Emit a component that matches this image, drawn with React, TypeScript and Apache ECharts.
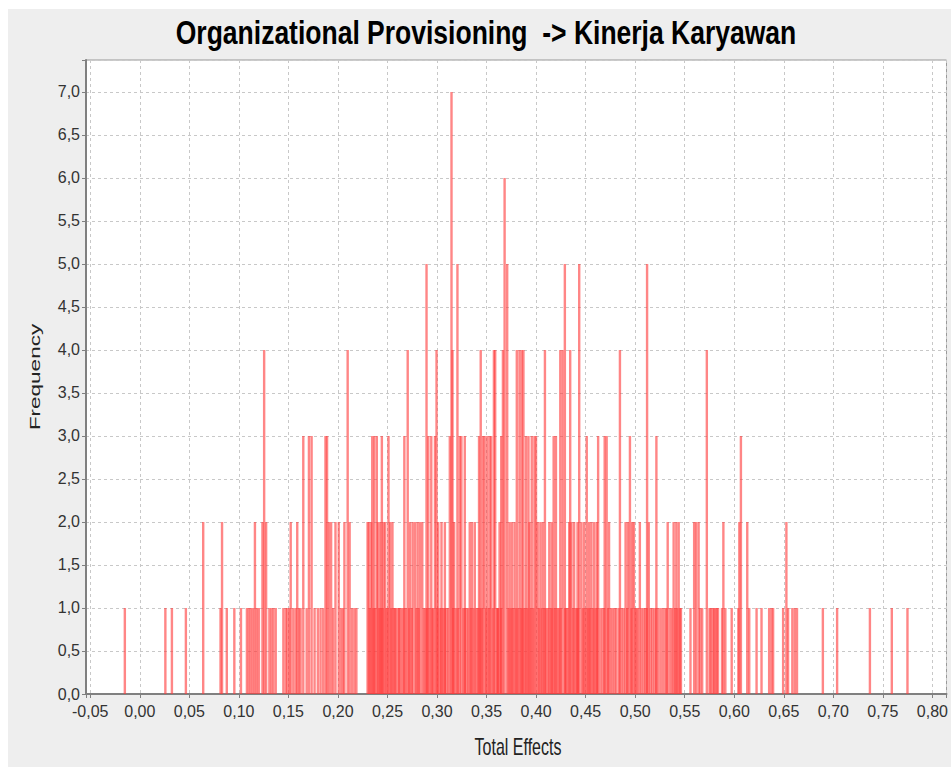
import { useEffect, useRef } from 'react';
import * as echarts from 'echarts';

const titleText = 'Organizational Provisioning  -> Kinerja Karyawan';
const xAxisTitle = 'Total Effects';
const yAxisTitle = 'Frequency';

// Bootstrap sample positions (Total Effects) grouped by bar height (frequency)
const freq1 = [
  -0.0151, 0.0258, 0.0324, 0.0465, 0.0815, 0.0878, 0.0954, 0.1021,
  0.1081, 0.1101, 0.1121, 0.1142, 0.1182, 0.1202, 0.1308, 0.1328, 0.1348, 0.1372,
  0.1449, 0.1473, 0.1489, 0.1509, 0.1549, 0.1573, 0.1606, 0.1623, 0.1684, 0.1764,
  0.1797, 0.1824, 0.185, 0.1951, 0.2031, 0.2051, 0.2142, 0.2166, 0.2186,
  0.2322, 0.2357, 0.2375, 0.2415, 0.2432, 0.2452, 0.2488, 0.2502, 0.2538, 0.2562,
  0.2575, 0.2585, 0.2605, 0.2618, 0.2628, 0.2648, 0.2665, 0.2688, 0.2718, 0.2745,
  0.2792, 0.2815, 0.2868, 0.2885, 0.2902, 0.2925, 0.2952, 0.2962, 0.3002, 0.3025,
  0.3042, 0.3062, 0.3078, 0.3095, 0.3112, 0.3162, 0.3188, 0.3212, 0.3265, 0.3282,
  0.3298, 0.3315, 0.3342, 0.3368, 0.3398, 0.3412, 0.3432, 0.3452, 0.3495, 0.3522,
  0.3562, 0.3605, 0.3612, 0.3618, 0.3645, 0.3722, 0.3745, 0.3768, 0.3795, 0.3818,
  0.3845, 0.3865, 0.3888, 0.3912, 0.3945, 0.3972, 0.4028, 0.4055, 0.4082, 0.4102,
  0.4118, 0.4145, 0.4165, 0.4192, 0.4215, 0.4228, 0.4248, 0.4292, 0.4305, 0.4318,
  0.4372, 0.4398, 0.4412, 0.4425, 0.4472, 0.4498, 0.4525, 0.4545, 0.4572, 0.4598,
  0.4618, 0.4648, 0.4668, 0.4688, 0.4725, 0.4755, 0.4775, 0.4795, 0.4812, 0.4838,
  0.4865, 0.4885, 0.4918, 0.4962, 0.5002, 0.5012, 0.5028, 0.5065, 0.5085, 0.5102,
  0.5118, 0.5155, 0.5172, 0.5192, 0.5212, 0.5235, 0.5258, 0.5282, 0.5305, 0.5318,
  0.5352, 0.5372, 0.5402, 0.5425, 0.5452, 0.5462, 0.5558,
  0.5656, 0.5676, 0.575, 0.5763, 0.5783, 0.5796, 0.581, 0.5823, 0.5836, 0.5876,
  0.591, 0.5974, 0.6041, 0.6151, 0.6225, 0.6275, 0.6352, 0.6375, 0.6392, 0.6493,
  0.6543, 0.6586, 0.661, 0.6633, 0.6894, 0.7038, 0.7369, 0.759, 0.7748,
];
const freq2 = [
  0.064, 0.083, 0.1162, 0.1238, 0.1275, 0.1523, 0.1589, 0.1908, 0.1931, 0.1975,
  0.2008, 0.2065, 0.2118, 0.2299, 0.2312, 0.2336, 0.2403, 0.2427, 0.246, 0.2477,
  0.2527, 0.255, 0.2727, 0.2754, 0.2778, 0.2804, 0.2828, 0.2851, 0.3012, 0.3045,
  0.3079, 0.3173, 0.333, 0.3353, 0.3381, 0.3631, 0.3732, 0.3755, 0.3782, 0.3933,
  0.4016, 0.4043, 0.4066, 0.4133, 0.4157, 0.4334, 0.4357, 0.4384, 0.4418, 0.4458,
  0.4485, 0.4535, 0.4558, 0.4585, 0.4611, 0.4736, 0.4903, 0.4927, 0.497, 0.4987,
  0.5047, 0.5137, 0.5328, 0.5388, 0.5415, 0.5439, 0.5595, 0.5615, 0.564, 0.589,
  0.6051, 0.6131, 0.6526,
];
const freq3 = [
  0.165, 0.1707, 0.1734, 0.1874, 0.189, 0.2346, 0.2366, 0.2392, 0.2443, 0.251,
  0.267, 0.2912, 0.2942, 0.2979, 0.3129, 0.323, 0.3246, 0.328, 0.3424, 0.3464,
  0.3481, 0.3507, 0.3531, 0.3547, 0.3648, 0.3899, 0.3923, 0.3956, 0.3983, 0.3999,
  0.4177, 0.42, 0.4511, 0.4626, 0.4692, 0.4712, 0.4947, 0.5214, 0.6067,
];
const freq4 = [
  0.1255, 0.2098, 0.2704, 0.2995, 0.3156, 0.3441, 0.3574, 0.3587, 0.3665, 0.3805,
  0.3832, 0.3855, 0.3872, 0.4089, 0.4244, 0.4267, 0.4344, 0.4846, 0.5723,
];
const freq5 = [0.2894, 0.3206, 0.3708, 0.429, 0.4435, 0.512];
const freq6 = [0.3682];
const freq7 = [0.3146];

const groups: [number[], number][] = [
  [freq1, 1], [freq2, 2], [freq3, 3], [freq4, 4], [freq5, 5], [freq6, 6], [freq7, 7],
];
const barData = groups.flatMap(([xs, f]) => xs.map((x) => [x, f]));

const X_MIN = -0.0543;
const X_MAX = 0.8142;
const Y_MAX = 7.372;

const fmtX = (v: number) => {
  const k = Math.round(v / 0.05);
  if (Math.abs(v - k * 0.05) > 1e-6) return '';
  return (k * 0.05).toFixed(2).replace('-0.00', '0.00').replace('.', ',');
};
const fmtY = (v: number) => {
  const k = Math.round(v / 0.5);
  if (Math.abs(v - k * 0.5) > 1e-6) return '';
  return (k * 0.5).toFixed(1).replace('.', ',');
};

export default function App() {
  const ref = useRef<HTMLDivElement>(null);
  useEffect(() => {
    if (!ref.current) return;
    const chart = echarts.init(ref.current, null, { renderer: 'svg' });
    const narrow = '"Liberation Sans Narrow", "Liberation Sans", Arial, sans-serif';
    chart.setOption({
      animation: false,
      backgroundColor: '#ffffff',
      graphic: [
        { type: 'rect', shape: { x: 8, y: 9, width: 960, height: 770 }, style: { fill: '#eeeeee' }, z: -10 },
        {
          type: 'text', x: 486, y: 32, scaleY: 1.25,
          style: { text: titleText, font: 'bold 26.5px "Liberation Sans", Arial, sans-serif', fill: '#000', align: 'center', verticalAlign: 'middle' },
        },
        {
          type: 'text', x: 518, y: 747, scaleY: 1.45,
          style: { text: xAxisTitle, font: '16px "Liberation Sans", Arial, sans-serif', fill: '#222', align: 'center', verticalAlign: 'middle' },
        },
        {
          type: 'text', x: 35, y: 377, rotation: Math.PI / 2, scaleX: 1.5,
          style: { text: yAxisTitle, font: '15px "Liberation Sans", Arial, sans-serif', fill: '#222', align: 'center', verticalAlign: 'middle' },
        },
      ],
      grid: {
        left: 86, top: 60, right: 0, bottom: 73,
        show: true, backgroundColor: '#ffffff', borderColor: '#999999', borderWidth: 1,
      },
      xAxis: {
        type: 'value', min: X_MIN, max: X_MAX, splitNumber: 17,
        axisLine: { show: true, onZero: false, lineStyle: { color: '#808080', width: 2 } },
        axisTick: { show: true, length: 4, lineStyle: { color: '#808080' } },
        axisLabel: { formatter: fmtX, color: '#333', fontFamily: narrow, fontSize: 16, margin: 9 },
        splitLine: { show: true, lineStyle: { color: '#c8c8c8', type: [3, 3], width: 1 } },
      },
      yAxis: {
        type: 'value', min: 0, max: Y_MAX, splitNumber: 15,
        axisLine: { show: true, onZero: false, lineStyle: { color: '#808080', width: 2 } },
        axisTick: { show: true, length: 4, lineStyle: { color: '#808080' } },
        axisLabel: { formatter: fmtY, color: '#333', fontFamily: narrow, fontSize: 16, margin: 6 },
        splitLine: { show: true, lineStyle: { color: '#c8c8c8', type: [3, 3], width: 1 } },
      },
      series: [
        {
          type: 'bar',
          data: barData,
          barWidth: 2.4,
          itemStyle: { color: 'rgba(255, 60, 60, 0.62)' },
          silent: true,
        },
      ],
    });
    return () => chart.dispose();
  }, []);
  return <div ref={ref} style={{ position: 'absolute', left: 0, top: 0, width: 951, height: 767 }} />;
}
